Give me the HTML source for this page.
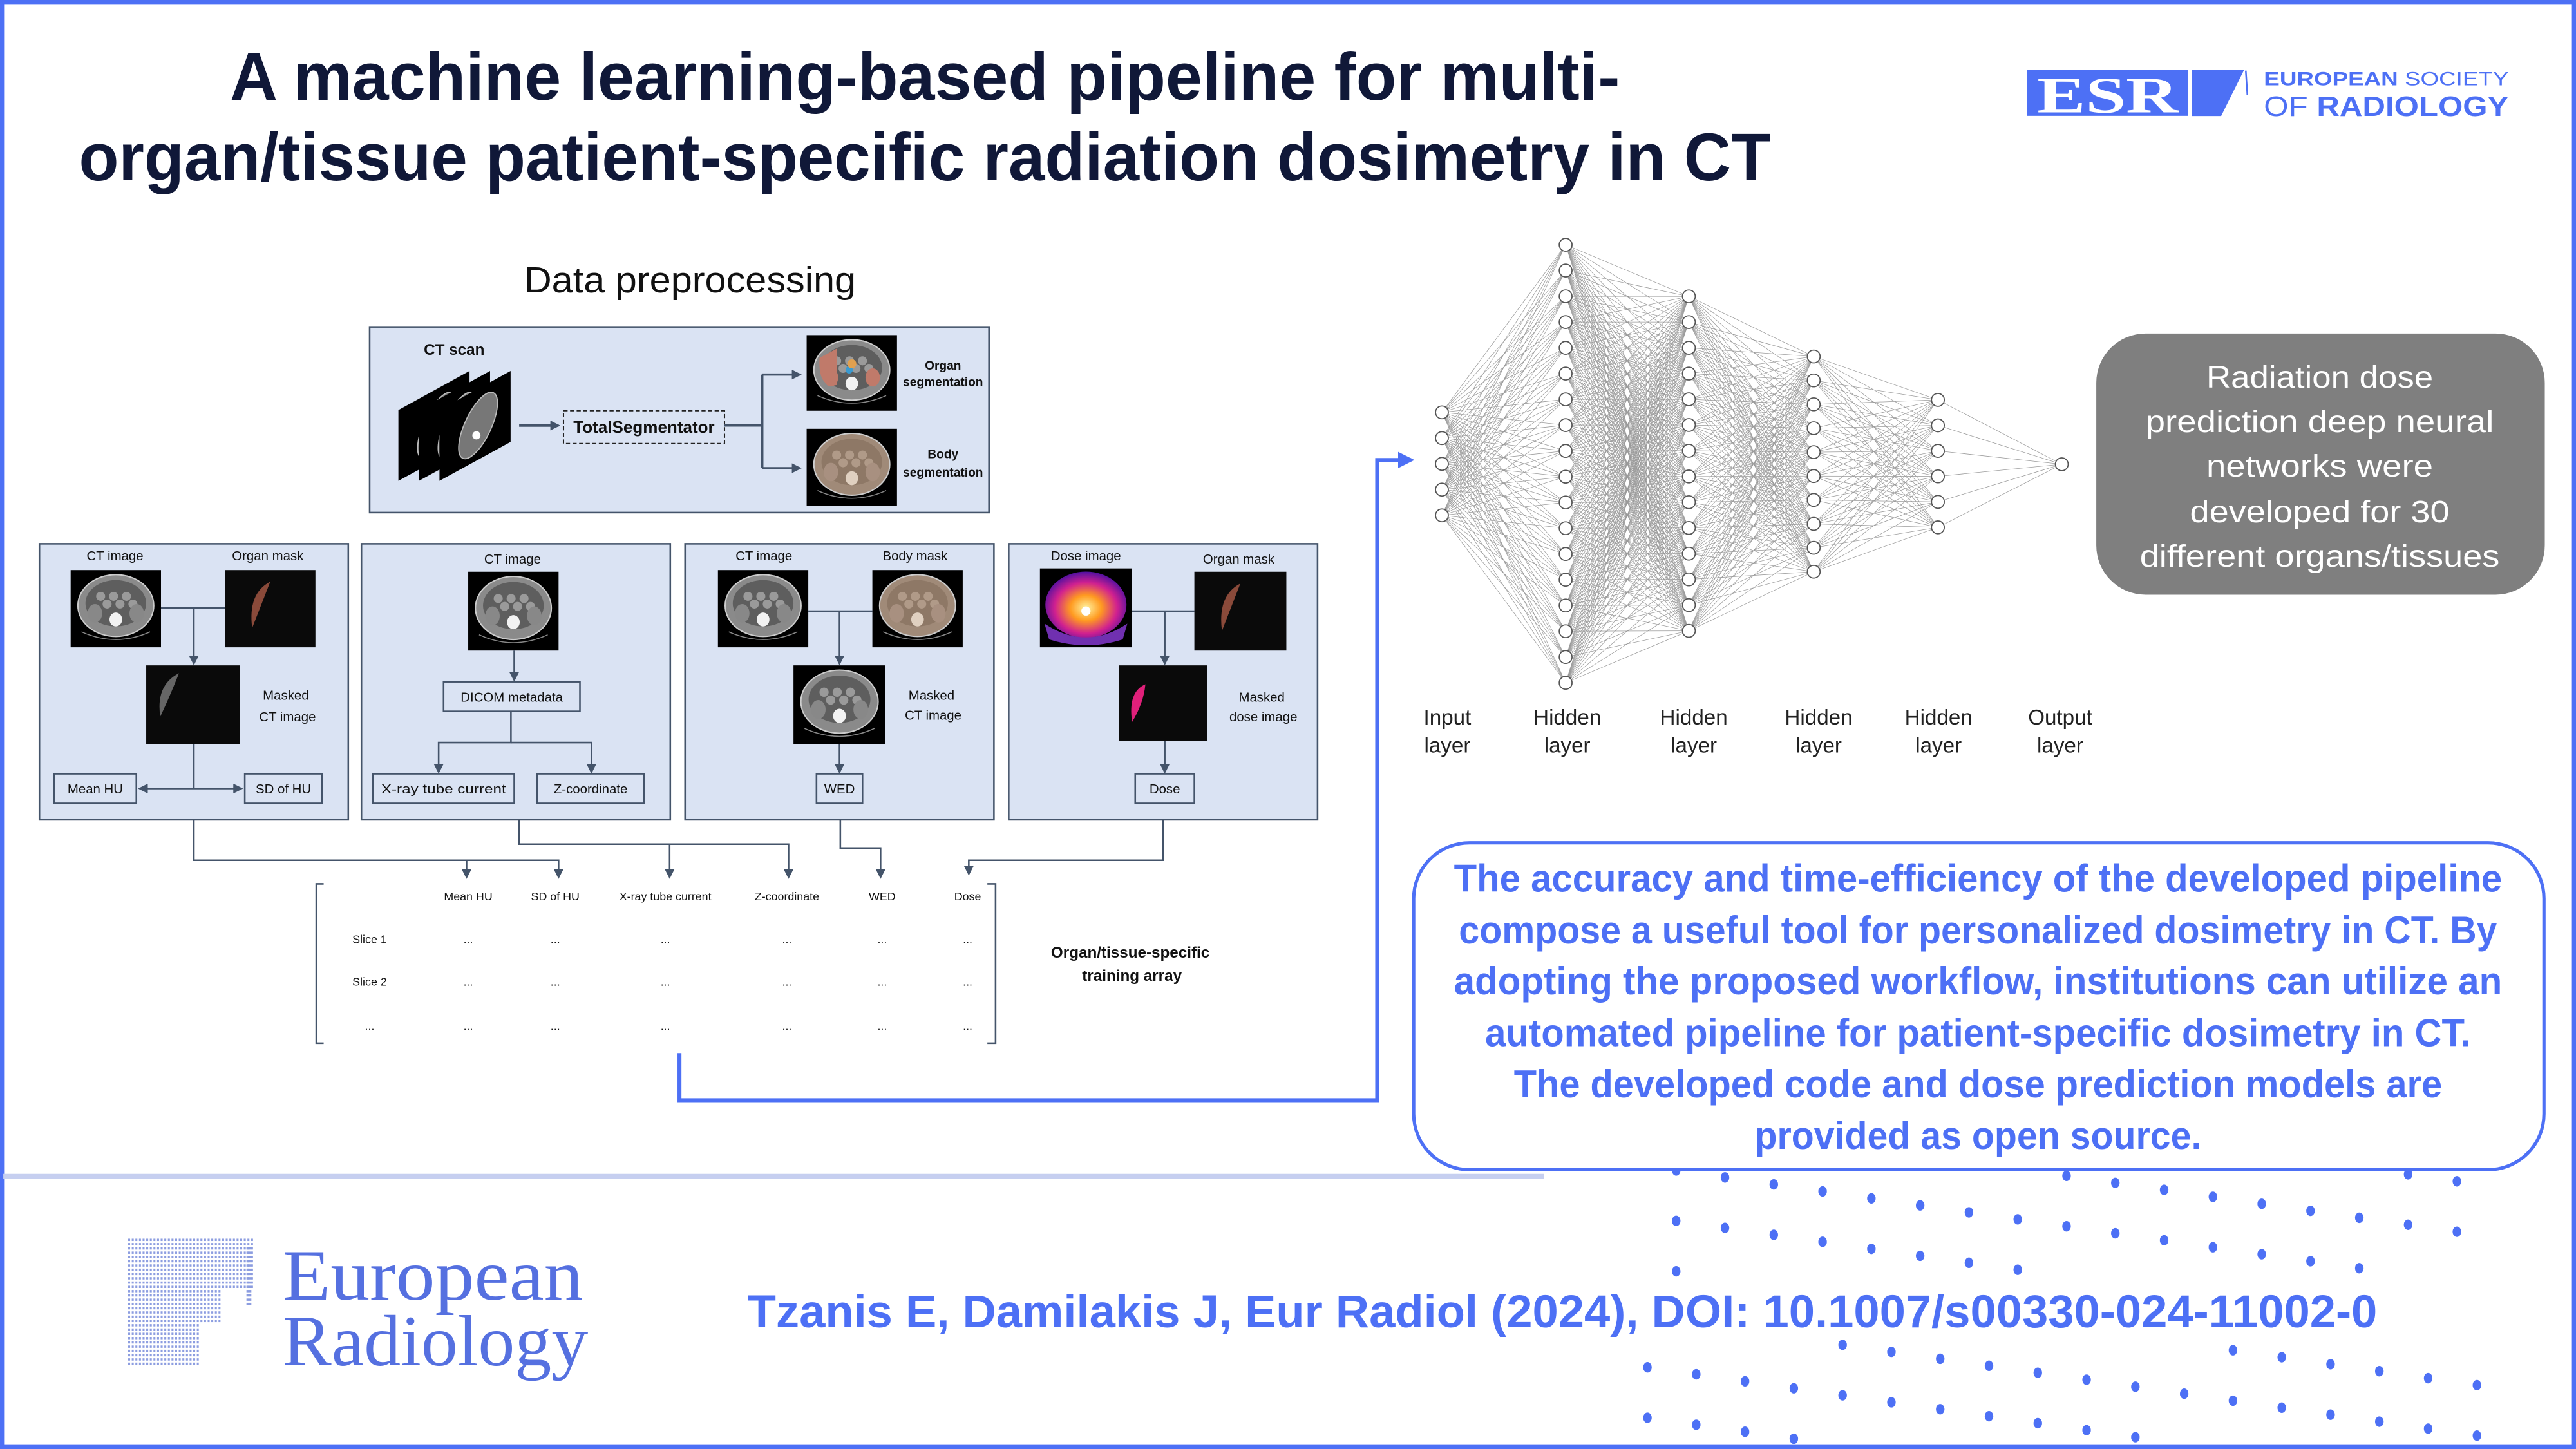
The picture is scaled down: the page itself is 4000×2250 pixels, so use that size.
<!DOCTYPE html>
<html><head><meta charset="utf-8"><style>
html,body{margin:0;padding:0;background:#fff;}
svg{display:block;}
text{font-family:"Liberation Sans",sans-serif;}
</style></head><body>
<svg id="s" xmlns="http://www.w3.org/2000/svg" width="4000" height="2250" viewBox="0 0 1568 882" preserveAspectRatio="none">
<defs>
<marker id="ad" markerWidth="6" markerHeight="6" refX="5" refY="3" orient="auto" markerUnits="userSpaceOnUse"><path d="M0,0 L6,3 L0,6 Z" fill="#44546a"/></marker>
<marker id="ads" markerWidth="6" markerHeight="6" refX="1" refY="3" orient="auto" markerUnits="userSpaceOnUse"><path d="M6,0 L0,3 L6,6 Z" fill="#44546a"/></marker>
<marker id="ab" markerWidth="10" markerHeight="10" refX="8" refY="5" orient="auto" markerUnits="userSpaceOnUse"><path d="M0,0 L10,5 L0,10 Z" fill="#4d70f5"/></marker>
<radialGradient id="dose" cx="0.5" cy="0.55" r="0.55"><stop offset="0" stop-color="#fff3a0"/><stop offset="0.35" stop-color="#ff9a20"/><stop offset="0.7" stop-color="#d02090"/><stop offset="1" stop-color="#5010a0"/></radialGradient>
</defs>
<rect x="0" y="0" width="1568" height="882" fill="#fff"/>
<g id="dots" fill="#4d70f5"></g>

<!-- frame -->
<rect x="1.2" y="1.2" width="1565.6" height="879.6" fill="none" stroke="#4d70f5" stroke-width="2.6"/>
<line x1="2" y1="716" x2="940" y2="716" stroke="#c6cff0" stroke-width="3"/>

<!-- title -->
<text x="563" y="60.8" text-anchor="middle" font-size="41" font-weight="bold" fill="#101838" textLength="846" lengthAdjust="spacingAndGlyphs">A machine learning-based pipeline for multi-</text>
<text x="563" y="109.8" text-anchor="middle" font-size="41" font-weight="bold" fill="#101838" textLength="1030" lengthAdjust="spacingAndGlyphs">organ/tissue patient-specific radiation dosimetry in CT</text>

<!-- ESR logo -->
<rect x="1234" y="42.5" width="98" height="28" fill="#4d70f5"/>
<text x="1283" y="68.5" text-anchor="middle" font-size="31" font-weight="bold" fill="#fff" font-family="Liberation Serif" style="font-family:'Liberation Serif',serif" textLength="86" lengthAdjust="spacingAndGlyphs">ESR</text>
<polygon points="1334,42.5 1366,42.5 1352,70.6 1334,70.6" fill="#4d70f5"/>
<line x1="1367" y1="43" x2="1368" y2="58" stroke="#4d70f5" stroke-width="1"/>
<text x="1378" y="52" font-size="11.5" fill="#4d70f5" textLength="149" lengthAdjust="spacingAndGlyphs"><tspan font-weight="bold">EUROPEAN</tspan> SOCIETY</text>
<text x="1378" y="70.6" font-size="17" fill="#4d70f5" textLength="149" lengthAdjust="spacingAndGlyphs">OF <tspan font-weight="bold">RADIOLOGY</tspan></text>

<!-- Data preprocessing -->
<text x="420" y="178" text-anchor="middle" font-size="22" fill="#111" textLength="202" lengthAdjust="spacingAndGlyphs">Data preprocessing</text>

<rect x="225" y="199" width="377" height="113" fill="#dae3f3" stroke="#44546a" stroke-width="1"/>
<text x="258" y="216" font-size="9.5" font-weight="bold" fill="#111">CT scan</text>
<g id="stack"></g>
<line x1="316" y1="259" x2="340" y2="259" stroke="#44546a" stroke-width="1.6" marker-end="url(#ad)"/>
<rect x="343" y="250" width="98" height="20" fill="none" stroke="#222" stroke-width="0.8" stroke-dasharray="2.5,1.5"/>
<text x="392" y="263.5" text-anchor="middle" font-size="10" font-weight="bold" fill="#111" textLength="86" lengthAdjust="spacingAndGlyphs">TotalSegmentator</text>
<path d="M441 259 H464 M464 228 V285" stroke="#44546a" stroke-width="1.4" fill="none"/>
<line x1="464" y1="228" x2="487" y2="228" stroke="#44546a" stroke-width="1.4" marker-end="url(#ad)"/>
<line x1="464" y1="285" x2="487" y2="285" stroke="#44546a" stroke-width="1.4" marker-end="url(#ad)"/>
<text x="574" y="225" text-anchor="middle" font-size="7.5" font-weight="bold" fill="#111">Organ</text>
<text x="574" y="235" text-anchor="middle" font-size="7.5" font-weight="bold" fill="#111">segmentation</text>
<text x="574" y="279" text-anchor="middle" font-size="7.5" font-weight="bold" fill="#111">Body</text>
<text x="574" y="290" text-anchor="middle" font-size="7.5" font-weight="bold" fill="#111">segmentation</text>

<!-- panels -->
<g fill="#dae3f3" stroke="#44546a" stroke-width="1">
<rect x="24" y="331" width="188" height="168"/>
<rect x="220" y="331" width="188" height="168"/>
<rect x="417" y="331" width="188" height="168"/>
<rect x="614" y="331" width="188" height="168"/>
</g>
<g font-size="8" fill="#111" text-anchor="middle">
<text x="70" y="341">CT image</text><text x="163" y="341">Organ mask</text>
<text x="174" y="426">Masked</text><text x="175" y="439">CT image</text>
<text x="312" y="343">CT image</text>
<text x="465" y="341">CT image</text><text x="557" y="341">Body mask</text>
<text x="567" y="426">Masked</text><text x="568" y="438">CT image</text>
<text x="661" y="341">Dose image</text><text x="754" y="343">Organ mask</text>
<text x="768" y="427">Masked</text><text x="769" y="439">dose image</text>
</g>
<g fill="#dae3f3" stroke="#44546a" stroke-width="1">
<rect x="33" y="471" width="50" height="18"/>
<rect x="149" y="471" width="47" height="18"/>
<rect x="270" y="415" width="83" height="18"/>
<rect x="227" y="471" width="86" height="18"/>
<rect x="327" y="471" width="65" height="18"/>
<rect x="497" y="471" width="28" height="18"/>
<rect x="691" y="471" width="36" height="18"/>
</g>
<g font-size="8" fill="#111" text-anchor="middle">
<text x="58" y="483">Mean HU</text>
<text x="172.5" y="483">SD of HU</text>
<text x="311.5" y="427">DICOM metadata</text>
<text x="270" y="483" textLength="76" lengthAdjust="spacingAndGlyphs">X-ray tube current</text>
<text x="359.5" y="483">Z-coordinate</text>
<text x="511" y="483">WED</text>
<text x="709" y="483">Dose</text>
</g>
<g id="imgs"></g>
<g stroke="#44546a" stroke-width="1" fill="none">
<path d="M98 370 H137 M118 370 V404" marker-end="url(#ad)"/>
<path d="M118 453 V480"/>
<line x1="118" y1="480" x2="85" y2="480" marker-end="url(#ad)"/>
<line x1="118" y1="480" x2="147" y2="480" marker-end="url(#ad)"/>
<path d="M313 396 V414" marker-end="url(#ad)"/>
<path d="M311 433 V452 H267 V470" marker-end="url(#ad)"/>
<path d="M311 452 H360 V470" marker-end="url(#ad)"/>
<path d="M492 372 H531 M511 372 V404" marker-end="url(#ad)"/>
<path d="M511 453 V470" marker-end="url(#ad)"/>
<path d="M689 372 H727 M709 372 V404" marker-end="url(#ad)"/>
<path d="M709 451 V470" marker-end="url(#ad)"/>
<path d="M118 499 V523.6 H340 V534" marker-end="url(#ad)"/>
<path d="M284 523.6 V534" marker-end="url(#ad)"/>
<path d="M316 499 V513.8 H480 V534" marker-end="url(#ad)"/>
<path d="M407.6 513.8 V534" marker-end="url(#ad)"/>
<path d="M511.5 499 V516.2 H536 V534" marker-end="url(#ad)"/>
<path d="M708 499 V523.6 H589.7 V532" marker-end="url(#ad)"/>
<path d="M197 538 H192.5 V635 H197 M601 538 H606 V635 H601"/>
</g>
<g font-size="7" fill="#111" text-anchor="middle">
<text x="285" y="548">Mean HU</text><text x="338" y="548">SD of HU</text><text x="405" y="548">X-ray tube current</text><text x="479" y="548">Z-coordinate</text><text x="537" y="548">WED</text><text x="589" y="548">Dose</text>
<text x="225" y="574">Slice 1</text><text x="285" y="574">...</text><text x="338" y="574">...</text><text x="405" y="574">...</text><text x="479" y="574">...</text><text x="537" y="574">...</text><text x="589" y="574">...</text>
<text x="225" y="600">Slice 2</text><text x="285" y="600">...</text><text x="338" y="600">...</text><text x="405" y="600">...</text><text x="479" y="600">...</text><text x="537" y="600">...</text><text x="589" y="600">...</text>
<text x="225" y="627">...</text><text x="285" y="627">...</text><text x="338" y="627">...</text><text x="405" y="627">...</text><text x="479" y="627">...</text><text x="537" y="627">...</text><text x="589" y="627">...</text>
</g>
<text x="688" y="583" text-anchor="middle" font-size="9.5" font-weight="bold" fill="#111">Organ/tissue-specific</text>
<text x="689" y="597" text-anchor="middle" font-size="9.5" font-weight="bold" fill="#111">training array</text>

<!-- blue connector -->
<path d="M413.6 641 V669.7 H838.3 V280 H859" fill="none" stroke="#4d70f5" stroke-width="2.4" marker-end="url(#ab)"/>

<!-- neural net -->
<g id="edges" stroke="#9a9a9a" stroke-width="0.3" fill="none"></g>
<g id="nodes" fill="#fff" stroke="#555" stroke-width="0.7"></g>
<g font-size="13" fill="#222" text-anchor="middle">
<text x="881" y="441">Input</text><text x="881" y="458">layer</text>
<text x="954" y="441">Hidden</text><text x="954" y="458">layer</text>
<text x="1031" y="441">Hidden</text><text x="1031" y="458">layer</text>
<text x="1107" y="441">Hidden</text><text x="1107" y="458">layer</text>
<text x="1180" y="441">Hidden</text><text x="1180" y="458">layer</text>
<text x="1254" y="441">Output</text><text x="1254" y="458">layer</text>
</g>

<!-- gray box -->
<rect x="1276" y="203" width="273" height="159" rx="30" ry="30" fill="#7f7f7f"/>
<g font-size="19" fill="#fff" text-anchor="middle">
<text x="1412" y="236" textLength="138" lengthAdjust="spacingAndGlyphs">Radiation dose</text>
<text x="1412" y="263" textLength="212" lengthAdjust="spacingAndGlyphs">prediction deep neural</text>
<text x="1412" y="290" textLength="138" lengthAdjust="spacingAndGlyphs">networks were</text>
<text x="1412" y="318" textLength="158" lengthAdjust="spacingAndGlyphs">developed for 30</text>
<text x="1412" y="345" textLength="219" lengthAdjust="spacingAndGlyphs">different organs/tissues</text>
</g>

<!-- blue box -->
<rect x="860.5" y="513" width="688" height="199" rx="34" ry="34" fill="#fff" stroke="#4d70f5" stroke-width="2"/>
<g font-size="23.5" font-weight="bold" fill="#4d70f5" text-anchor="middle">
<text x="1204" y="542.8" textLength="638" lengthAdjust="spacingAndGlyphs">The accuracy and time-efficiency of the developed pipeline</text>
<text x="1204" y="574.3" textLength="632" lengthAdjust="spacingAndGlyphs">compose a useful tool for personalized dosimetry in CT. By</text>
<text x="1204" y="605.3" textLength="638" lengthAdjust="spacingAndGlyphs">adopting the proposed workflow, institutions can utilize an</text>
<text x="1204" y="636.8" textLength="600" lengthAdjust="spacingAndGlyphs">automated pipeline for patient-specific dosimetry in CT.</text>
<text x="1204" y="668" textLength="565" lengthAdjust="spacingAndGlyphs">The developed code and dose prediction models are</text>
<text x="1204" y="699.4" textLength="272" lengthAdjust="spacingAndGlyphs">provided as open source.</text>
</g>

<!-- European Radiology logo -->
<g id="erl" fill="#8c9de0"></g>
<text x="172" y="791" font-size="44" fill="#5570e0" style="font-family:'Liberation Serif',serif" textLength="183" lengthAdjust="spacingAndGlyphs">European</text>
<text x="172" y="831" font-size="44" fill="#5570e0" style="font-family:'Liberation Serif',serif" textLength="186" lengthAdjust="spacingAndGlyphs">Radiology</text>

<!-- citation -->
<text x="455" y="808" font-size="28" font-weight="bold" fill="#4d70f5" textLength="992" lengthAdjust="spacingAndGlyphs">Tzanis E, Damilakis J, Eur Radiol (2024), DOI: 10.1007/s00330-024-11002-0</text>
</svg>
<script>
var NS="http://www.w3.org/2000/svg";
function el(p,t,a){var e=document.createElementNS(NS,t);for(var k in a)e.setAttribute(k,a[k]);p.appendChild(e);return e;}
// dots
var dg=document.getElementById('dots');
function lattice(ox,oy,y0,y1){for(var k=-30;k<30;k++)for(var i=-30;i<30;i++){var x=ox+29.7*i,y=oy+4.25*i+30.7*k;if(x>=1000&&x<=1512&&y>=y0&&y<=y1)el(dg,'ellipse',{cx:x,cy:y,rx:2.6,ry:3.2});}}
lattice(1050,716.7,712,776);lattice(1002.8,832.3,818,879);
// NN
var layers=[[877.7,5,251,313.7],[953,18,149,415.6],[1028,14,180.4,384],[1104,10,217,348],[1179.6,6,243.4,321],[1255,1,282.6,282.6]];
var pts=layers.map(function(L){var a=[];for(var i=0;i<L[1];i++){a.push([L[0],L[1]==1?L[2]:L[2]+(L[3]-L[2])*i/(L[1]-1)]);}return a;});
var eg=document.getElementById('edges'),ng=document.getElementById('nodes');
for(var l=0;l<pts.length-1;l++)pts[l].forEach(function(a){pts[l+1].forEach(function(b){el(eg,'line',{x1:a[0],y1:a[1],x2:b[0],y2:b[1]});});});
pts.forEach(function(a){a.forEach(function(p){el(ng,'circle',{cx:p[0],cy:p[1],r:3.9});});});
// images
var ig=document.getElementById('imgs');
function ct(x,y,w,h,t){
 el(ig,'rect',{x:x,y:y,width:w,height:h,fill:t=='masked'||t=='maskdose'||t=='mask'?'#0a0a0a':'#000'});
 var cx=x+w/2,cy=y+h*0.46,rx=w*0.42,ry=h*0.4;
 if(t=='ct'||t=='organ'||t=='body'){
  el(ig,'path',{d:'M'+(x+w*0.12)+' '+(y+h*0.8)+' Q'+cx+' '+(y+h*1.0)+' '+(x+w*0.88)+' '+(y+h*0.8),stroke:'#888','stroke-width':0.6,fill:'none'});
  el(ig,'ellipse',{cx:cx,cy:cy,rx:rx,ry:ry,fill:t=='body'?'#a08a78':'#8a8a8a',stroke:'#ccc','stroke-width':0.8});
  el(ig,'ellipse',{cx:cx,cy:cy-h*0.03,rx:rx*0.8,ry:ry*0.75,fill:t=='body'?'#8e7866':'#5e5e5e'});
  for(var i=0;i<6;i++)el(ig,'circle',{cx:cx+rx*(-0.4+0.17*i),cy:cy-ry*0.3+(i%2)*ry*0.25,r:w*0.05,fill:t=='body'?'#b09a88':'#9a9a9a'});
  el(ig,'ellipse',{cx:cx-rx*0.55,cy:cy+ry*0.25,rx:w*0.08,ry:h*0.12,fill:t=='organ'?'#c07a6a':(t=='body'?'#a89080':'#888')});
  el(ig,'ellipse',{cx:cx+rx*0.55,cy:cy+ry*0.25,rx:w*0.08,ry:h*0.12,fill:t=='organ'?'#c07a6a':(t=='body'?'#a89080':'#888')});
  if(t=='organ'){el(ig,'path',{d:'M'+(cx-rx*0.85)+' '+(cy-ry*0.4)+' Q'+(cx-rx*0.9)+' '+(cy+ry*0.6)+' '+(cx-rx*0.4)+' '+(cy+ry*0.5)+' L'+(cx-rx*0.4)+' '+(cy-ry*0.7)+' Z',fill:'#c07a6a'});el(ig,'circle',{cx:cx-w*0.03,cy:cy,r:w*0.04,fill:'#3a9ad0'});el(ig,'circle',{cx:cx,cy:cy-h*0.08,r:w*0.05,fill:'#e0a050'});}
  el(ig,'ellipse',{cx:cx,cy:cy+ry*0.45,rx:w*0.07,ry:h*0.09,fill:t=='body'?'#e0d0c0':'#f2f2f2'});
 } else if(t=='mask'){
  el(ig,'path',{d:'M'+(x+w*0.3)+' '+(y+h*0.75)+' Q'+(x+w*0.25)+' '+(y+h*0.3)+' '+(x+w*0.5)+' '+(y+h*0.15)+' Q'+(x+w*0.4)+' '+(y+h*0.45)+' '+(x+w*0.3)+' '+(y+h*0.75)+' Z',fill:'#8a4a3a'});
 } else if(t=='masked'){
  el(ig,'path',{d:'M'+(x+w*0.15)+' '+(y+h*0.65)+' Q'+(x+w*0.1)+' '+(y+h*0.25)+' '+(x+w*0.35)+' '+(y+h*0.1)+' Q'+(x+w*0.25)+' '+(y+h*0.4)+' '+(x+w*0.15)+' '+(y+h*0.65)+' Z',fill:'#666'});
 } else if(t=='maskdose'){
  el(ig,'path',{d:'M'+(x+w*0.15)+' '+(y+h*0.75)+' Q'+(x+w*0.1)+' '+(y+h*0.35)+' '+(x+w*0.3)+' '+(y+h*0.25)+' Q'+(x+w*0.28)+' '+(y+h*0.5)+' '+(x+w*0.15)+' '+(y+h*0.75)+' Z',fill:'#e0207a'});
 } else if(t=='dose'){
  el(ig,'ellipse',{cx:cx,cy:cy,rx:rx*1.05,ry:ry*1.05,fill:'url(#dose)'});
  el(ig,'path',{d:'M'+(x+w*0.05)+' '+(y+h*0.7)+' Q'+cx+' '+(y+h*1.05)+' '+(x+w*0.95)+' '+(y+h*0.7)+' L'+(x+w*0.9)+' '+(y+h*0.9)+' Q'+cx+' '+(y+h*1.05)+' '+(x+w*0.1)+' '+(y+h*0.9)+' Z',fill:'#7030b0'});
  el(ig,'circle',{cx:cx,cy:cy+h*0.08,r:w*0.05,fill:'#fff'});
 }
}
ct(491,204,55,46,'organ');ct(491,261,55,47,'body');
ct(43,347,55,47,'ct');ct(137,347,55,47,'mask');ct(89,405,57,48,'masked');
ct(285,348,55,48,'ct');
ct(437,347,55,47,'ct');ct(531,347,55,47,'body');ct(483,405,56,48,'ct');
ct(633,346,56,48,'dose');ct(727,348,56,48,'mask');ct(681,405,54,46,'maskdose');
// stack
var sg=document.getElementById('stack');
for(var s=0;s<3;s++){var o=s*12.5;
 el(sg,'polygon',{points:(242.5+o)+',249.6 '+(285.8+o)+',225.8 '+(285.8+o)+',269 '+(242.5+o)+',292.7',fill:'#000'});
 el(sg,'ellipse',{cx:266+o,cy:259,rx:8,ry:22,fill:'#777',stroke:'#bbb','stroke-width':0.7,transform:'rotate(25 '+(266+o)+' 259)'});
}
el(sg,'circle',{cx:290,cy:265,r:2.5,fill:'#fff'});
// ER logo dots
var eg2=document.getElementById('erl');
for(var r=0;r<30;r++){var yy=754+r*2.6;var xe=r<12?153:(r<20?134:121);for(var xx=78;xx<=xe;xx+=2.2){if(r<16||xx<134)el(eg2,'rect',{x:xx,y:yy,width:1.2,height:1.4});}if(r>=2&&r<16)el(eg2,'rect',{x:150,y:yy,width:3,height:1.4});}
</script>
</body></html>
